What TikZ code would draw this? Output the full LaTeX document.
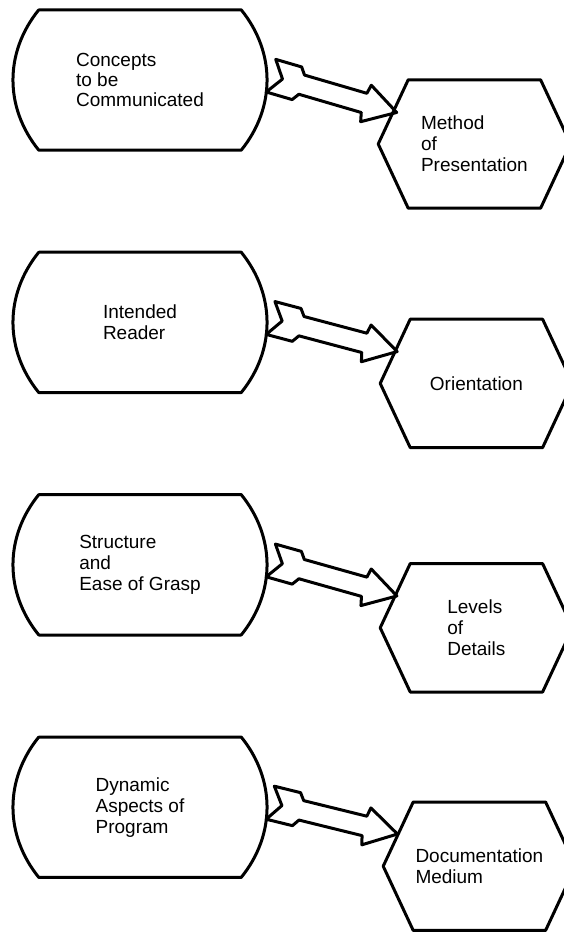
\documentclass[tikz,border=0pt]{standalone}
\usepackage{fontspec}
\setmainfont{Liberation Sans}
\usetikzlibrary{positioning,calc}

\tikzset{
	outline/.style={line width=3pt, line join=round, line cap=round},
	stage/.style={minimum width=202pt, minimum height=140pt, inner sep=0pt,%
		align=left, font=\fontsize{19}{21}\selectfont},
	result/.style={minimum width=132pt, minimum height=128pt, inner sep=0pt,%
		align=left, font=\fontsize{19}{21}\selectfont},
	% notched broad arrow, tail corner at the origin
	pics/fatarrow/.style={code={
		\draw[outline] (0,0) -- (27,0) -- (32,7) -- (97,7) -- (99,-2) -- (131,17)
		-- (99,36) -- (97,27) -- (32,27) -- (27,34) -- (0,34) -- (12,17) -- cycle;
	}},
}

\begin{document}
\begin{tikzpicture}[x=1pt,y=1pt]
	\useasboundingbox (0,0) rectangle (564,-933);
	\clip (0,0) rectangle (564,-933);
	
	% left column
	\node[stage, font=\fontsize{19}{20}\selectfont] (concepts) at (140,-80) {Concepts\\to be\\Communicated};
	\node[stage, below=102pt of concepts] (reader) {Intended\\Reader};
	\node[stage, below=102pt of reader] (struct) {Structure\\and\\Ease of Grasp};
	\node[stage, below=102pt of struct] (dynamic) {Dynamic\\Aspects of\\Program};
	
	% right column
	\node[result, right=167pt of concepts, yshift=-64pt] (method) {Method\\of\\Presentation};
	\node[result, right=169pt of reader, yshift=-61pt] (orient) {Orientation};
	\node[result, right=169pt of struct, yshift=-63pt] (levels) {Levels\\of\\Details};
	\node[result, right=172pt of dynamic, yshift=-59pt] (medium) {Documentation\\Medium};
	
	\foreach \s/\h in {concepts/method, reader/orient, struct/levels, dynamic/medium}{
		\draw[outline] (\s.north west) -- (\s.north east) to[bend left=39] (\s.south east)
		-- (\s.south west) to[bend left=39] (\s.north west);
		\draw[outline] (\h.north west) -- (\h.north east) -- ($(\h.east)+(30,0)$)
		-- (\h.south east) -- (\h.south west) -- ($(\h.west)+(-30,0)$) -- cycle;
		\path let \p1=($(\s.east)+(25,-12)$), \p2=($(\h.north west)!.5!(\h.west)+(-15,0)$),
		\n1={atan2(\y2-\y1,\x2-\x1)-7.4} in pic[rotate=\n1] at (\p1) {fatarrow};
	}
\end{tikzpicture}
\end{document}
